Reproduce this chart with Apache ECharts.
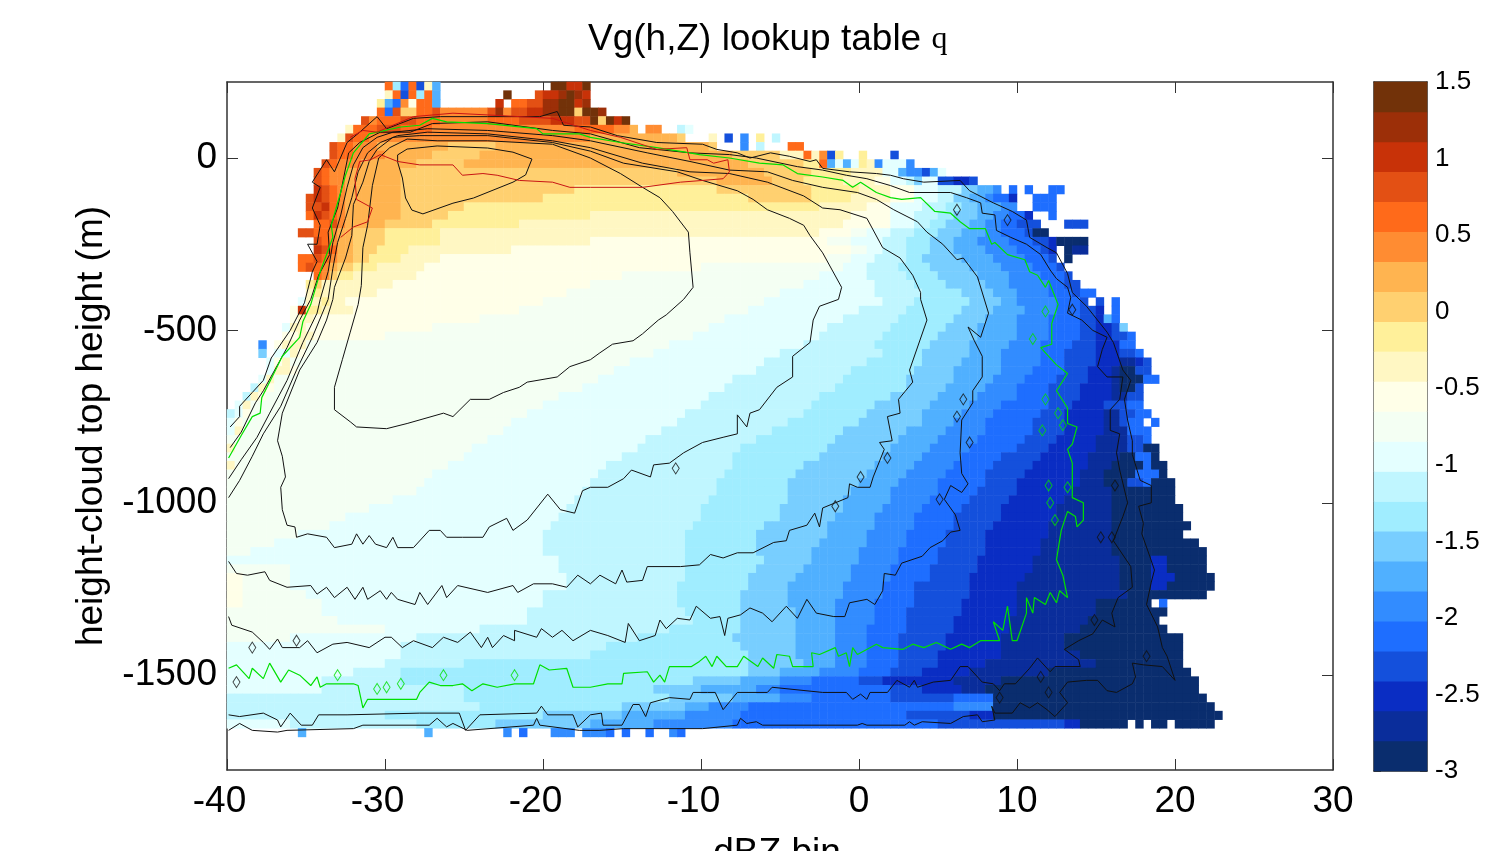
<!DOCTYPE html>
<html>
<head>
<meta charset="utf-8">
<script src="https://cdn.jsdelivr.net/npm/echarts@6/dist/echarts.min.js"></script>
<style>html,body{margin:0;padding:0;background:#fff;overflow:hidden}#c{width:1491px;height:851px}</style>
</head>
<body>
<div id="c"></div>
<script>
const bandColors=['#0a2d6e','#0a2d9b','#0a2dc3','#1450dc','#1e6eff','#328cff','#50b0ff','#78ceff','#a0edff','#c0f6ff','#e4ffff','#f4fff3','#ffffe8','#fff7c3','#fff09a','#ffd070','#ffb450','#ff8c32','#ff6a1a','#e35014','#c83208','#9c2f08','#723209'];
const yTicks=[-1500,-1000,-500,0];
// each row (25 m tall, top down from 220 m): "<start dBZ><level letter>..." , "_" = empty
const rowRuns=[
"-30s-29.5i-29e-28.5s-28d-27.5n-27g-26.5_-19.5w-18.5u-17.5w-17_",
"-30n-29.5s-29d-28.5s-28i-27.5s-27g-26.5_-22.5w-22_-20.5t-20u-19v-18.5w-18v-17.5u-17_",
"-30.5o-30g-29.5e-29r-28.5m-28s-27g-26.5_-23u-22.5_-22s-21t-20v-19w-18u-17.5v-17_",
"-30.5s-30e-29.5t-29p-28s-27t-26.5r-23.5t-23v-22.5r-22t-21u-20v-19w-18p-17.5w-16.5v-16_",
"-31.5t-31r-30.5s-29t-28s-26.5r-23.5s-21.5t-19.5u-18t-17w-16.5p-16w-15.5u-15w-14.5_",
"-32.5n-32s-30.5t-29s-27r-18s-15.5r-14.5q-14_-13.5r-12.5_-11.5j-11k-10.5_",
"-33n-32.5t-32s-31r-17q-11.5p-11_-9.5n-9_-8.5d-8_-7.5f-7_-6.5o-6_-5.5j-5_",
"-33.5t-33s-32r-30.5q-26p-23q-9.5p-9_-7.5f-7_-6.5j-6_-4.5s-3.5_",
"-33.5t-33s-32r-30q-27p-24q-8p-5n-3.5s-3n-2.5r-2d-1.5o-1_0o0.5_2d2.5_",
"-34t-33.5s-33r-31.5q-28p-25q-7p-3.5o-2.5s-2g-1.5k-1g-0.5k0o0.5n1f1.5k3f3.5_",
"-34.5t-34s-33.5r-32.5q-29p-11.5q-6p-3o-0.5n1.5k2.5g3f4d4.5g5k5.5_",
"-34.5t-34s-33.5r-32.5q-29p-9q-5.5p-3.5o-1n1m2k3j3.5h4k5d6c7d7.5_",
"-34.5u-34t-33.5s-33r-32.5q-29p-18o-9p-3o0n2m3.5k5j6.5h7.5g8.5f9_9.5e10_10.5e11_12e13_",
"-35t-34.5u-34t-33.5s-33r-32.5q-29p-20o-7p-3o-0.5n2m3.5k5j6h7g8f8.5e9.5c10_11e12.5_",
"-35t-34u-33.5s-33r-32.5q-29p-25o-2.5n0.5m2k4j5.5i6.5h7.5g9f10_11e12.5_",
"-35s-34.5u-34t-33.5s-33r-32.5q-29p-26o-17n-0.5m2k3.5j5i6h7.5g8.5f9.5e10.5c11_12e12.5_",
"-34.5s-33.5t-33r-32.5q-30p-27o-21.5n-1m2k3.5j4.5i5.5h7g8f9e10d11.5_13d14.5_",
"-35.5t-34.5s-33.5r-33q-32p-30o-26.5n-2.5m-0.5l0.5k2j3.5i5h6.5g8f9e10.5d11a12_",
"-34.5t-34s-33.5r-33q-32p-30o-26.5n-17m-2l-0.5k1.5j3i4.5h6g7.5f9.5e11d12c12.5a14.5_",
"-34.5u-34t-33.5s-33q-32p-30.5o-28.5n-22m-0.5l0.5k1.5j3i4.5h6g8f10e11.5d12c12.5_13a13.5b14.5_",
"-35.5s-34.5t-34s-33.5r-33q-32p-31o-29n-26.5m-2l-0.5k1j3i4h6.5g8.5f10.5e12d12.5_13a13.5_",
"-35.5s-35t-34.5s-34r-33.5q-33p-32o-30.5n-27.5m-10l-1k0.5j2.5i4.5h7g9f11e12.5d13_",
"-34.5s-34r-33.5p-33o-32n-28m-15l-2.5k0.5j3i5h7.5g9.5f11.5e13d13.5_",
"-35o-34.5p-34n-29.5m-17l-3.5k1j3.5i5.5h8g9.5f12e13d14_",
"-35n-34.5o-34n-30.5m-18.5l-5k1j4i6.5h8.5g10f12e13.5d14e15_",
"-35.5k-35n-34o-33.5n-32.5m-20l-6k1.5j3.5i7h9g10f12.5e14d14.5_15d15.5_16e16.5_",
"-36m-35.5u-35o-34n-32m-21.5l-7k0j3i6.5h8.5g10.5f12.5e14d15c15.5_16e16.5_",
"-36m-35.5n-34.5m-24l-8.5k-1j2.5i6h8g10f12e14d15c15.5g16e16.5_",
"-36.5k-36n-35m-27l-9.5k-2j2i5.5h7.5g10f12e14d15c16d16.5h17_",
"-36.5m-35.5n-34.5m-30l-10.5k-2.5j1.5i5h7.5g10f12e14d15c16d17e17.5_",
"-38f-37.5_-37m-36.5n-35l-12k-3.5j1i4.5h7g9.5f11.5e13.5d15c16.5e17.5_",
"-38h-37.5_-37k-36n-35.5m-35l-13k-5j1.5i4h7g9f11.5e13d15c16.5d17.5e18_",
"-37.5k-37m-36.5n-36l-14.5k-6j0.5i4h6.5g9f11.5e13d15c16.5b17.5c18d18.5_",
"-37.5k-37n-36m-35.5l-15.5k-6.5j-0.5i3.5h6g9f11e13d14.5c16b16.5a17.5d18.5_",
"-38k-37.5n-37l-16.5k-8j-1i3h6g8.5f10.5e12.5d14.5c16b16.5a18e19_",
"-38.5j-38n-37.5m-37l-17.5k-8.5j-1.5i3h5.5g8f10e12d14c16b16.5a17.5d18_",
"-39j-38.5n-38m-37.5l-19k-9.5j-2.5i2h5g7.5f10e12d14c16b17d18_",
"-39.5k-39n-38.5l-20k-10j-3i1h4.5g7f9e12d13.5c15.5d17e18_",
"-40j-39.5k-39m-38.5l-21k-11j-3.5i0.5h4g6.5f8.5e11.5d13c15.5b16.5d17.5e18.5_",
"-40k-39.5m-39l-22k-11.5j-4.5i0h4g6f8e11d13c15.5b16.5d17e18_18.5e19_",
"-40k-39.5n-39l-22.5k-12.5j-5.5i-1h3g5.5f8e11d13c15.5b17e18.5_",
"-40l-23.5k-13.5j-6.5i-1.5h2.5g5f7.5e10.5d12.5c15b17d18e18.5_",
"-40n-39.5l-24.5k-14j-7.5i-2h2g4.5f7e10d12c15b17d18a19_",
"-40l-25k-15j-8i-2.5h1.5g4f6.5e9d11.5c14.5b16.5a17.5e18.5a19_",
"-40n-39.5l-26k-16j-8i-3.5h1g3.5f6e8.5d11c14.5b16a18e18.5a19.5_",
"-40l-27k-16.5j-8.5i-4h0.5g3f5.5e8d10.5c14b15.5a17.5e19a19.5_",
"-40l-27.5k-17j-9i-4.5h0g2.5f5e8d10c14b15.5a17d18e18.5a20_",
"-40l-28k-17.5j-9i-4.5h-0.5g2f5e7.5d10c13.5b16a20_",
"-40l-29.5k-18j-9.5i-4.5h-1g2f4.5e7d9.5c13b16a20_",
"-40l-31k-18.5j-10i-5h-1g1.5f4e6.5d9c12.5b16a20.5_",
"-40l-32.5k-19j-10i-5h-1.5g1f3.5e6d9c12.5b16a20.5_",
"-40l-33.5k-19.5j-10.5i-6h-2g1f3.5e6d8.5c12b16a21_",
"-40l-35.5k-20j-11i-6.5h-2g0.5f3e5.5d8c12b16a20.5_",
"-40l-37k-20j-11i-6.5h-2.5g0.5f3e5.5d8c11.5b16a21.5_",
"-40l-38.5k-20j-11i-6.5h-3g0f2.5e5d8c11.5b16a22_",
"-40k-19j-11i-6h-3g0f2.5e5d7.5c11b16.5a18.5c19.5a22_",
"-40l-36k-19j-11i-6.5h-3.5g-0.5f2e4.5d7.5c11b16.5a18.5c19.5a22_",
"-40m-39l-36k-18.5j-11i-7h-4g-0.5f2e4.5d7c10.5b16.5a18.5c20a22.5_",
"-40m-39l-36k-18.5j-11.5i-7h-4.5g-1f1.5e3.5d7c10b16.5a18.5c19.5a22.5_",
"-40m-39l-35k-20j-11.5i-7.5h-4.5g-1f1.5e3.5d7c10b17a22_",
"-40m-39l-34k-20j-11.5i-7.5h-4.5g-1.5f1e3.5d6.5c10b15a18.5_19e19.5_",
"-40l-34k-21j-11i-7.5h-4g-1.5f1e3d6.5c10b15a19.5_",
"-40l-33k-21j-10.5i-7.5h-4g-1.5f1e3d6c9.5b14.5a19_",
"-40l-30k-24j-12i-7.5h-4g-1.5f0.5e3d6c9.5b14a19.5_",
"-40l-36k-28j-14i-8h-4g-1.5f0.5e2.5d5.5c9b13a20.5_",
"-40k-29j-16i-7.5h-4g-1.5f0.5e2.5d5.5c9b13a20.5_",
"-40k-29j-17i-7h-4g-1.5f0.5e2.5d5c9b14a20.5_",
"-40k-30j-25i-7h-3.5g-1.5f0.5e2.5d5c8b15a20.5_",
"-40k-32j-29i-7h-5g-2.5f0e2d4c7b12a21_",
"-40k-34j-29i-10.5h-7.5g-5f-3e0d1.5c6b9a21.5_",
"-40k-34j-25i-13h-10g-6.5f-5e2d4c6.5b8a21.5_",
"-40j-25i-12h-8g-5f-3e2d6e8.5a22_",
"-40j-24i-15h-11g-9.5f-7e6f8.5a22.5_",
"-40j-30i-20h-15g-11f-7.5e3d7c8.5a23_",
"-40k-36j-28i-23h-17g-13f-8e5d13c14a17_17.5a18_18.5a19.5_20a22.5_",
"-35.5g-35_-27.5g-27_-22.5f-22_-21.5e-21_-19.5f-18_-17.5f-16e-15.5_-15e-14.5_-13.5e-13_-12f-11.5e-11_"
];
// contours: flat dBZ,height pairs
const contourA=[-29.2,9,-28.6,26,-26.7,35,-23.5,29,-21.9,17,-20.7,-3,-21.1,-49,-21.9,-70,-24.4,-116,-25.7,-131,-27.6,-162,-28.3,-151,-28.7,-116,-28.9,-58,-29.2,-12,-29.2,9];
const contourB=[-31.7,-425,-32.2,-505,-32.7,-585,-33.2,-665,-33.2,-730,-32.2,-765,-31.8,-780,-29.9,-785,-28.6,-770,-26.3,-740,-25.7,-750,-24.6,-700,-23.4,-700,-22.5,-680,-21.5,-665,-21,-650,-19.1,-635,-18.3,-605,-17,-585,-16.4,-565,-15.6,-540,-14.3,-530,-13.7,-510,-12.7,-470,-12.2,-455,-11.1,-410,-10.5,-375,-10.7,-275,-10.8,-215,-11.8,-155,-12.6,-115,-13.7,-85,-15.1,-45,-17,0,-19.4,40,-23.5,50,-26.7,50,-28.6,55,-29.7,30,-30.4,0,-30.8,-80,-31.1,-195,-31.4,-260,-31.5,-370,-31.7,-425];
const contourC=[-36.8,-820,-36.5,-865,-36.3,-925,-36.6,-955,-36.5,-1020,-36.2,-1065,-35.7,-1070,-35.6,-1100,-34.9,-1090,-33.7,-1100,-33.2,-1130,-32.1,-1120,-31.8,-1090,-31.4,-1120,-31,-1095,-30.6,-1120,-29.9,-1130,-29.5,-1100,-29.2,-1130,-28.2,-1130,-27.2,-1080,-26.5,-1080,-26.1,-1100,-25.1,-1100,-23.8,-1100,-23.4,-1070,-22.3,-1045,-21.9,-1080,-21,-1050,-19.7,-975,-18.9,-1020,-18,-1030,-17.5,-965,-17,-955,-15.9,-955,-14.9,-930,-14.4,-905,-13.2,-925,-13,-890,-12,-885,-11.1,-855,-9.9,-825,-8.6,-810,-7.7,-800,-7.7,-745,-7.1,-780,-6.9,-740,-6.3,-730,-5.2,-665,-4.2,-635,-4.2,-575,-3.1,-535,-2.9,-470,-2.5,-430,-1.3,-410,-1.1,-375,-2.3,-275,-3.1,-225,-3.5,-195,-4.4,-175,-5.8,-150,-6.7,-120,-7.7,-95,-9.9,-65,-11.5,-40,-14.9,-15,-17,20,-19.4,45,-23.5,65,-27.8,65,-29.5,60,-30.5,25,-31,-10,-31.4,-70,-32,-135,-32.1,-225,-32.5,-290,-33.2,-375,-33.3,-410,-33.7,-470,-34.3,-535,-35.4,-615,-36.5,-740,-36.8,-820];
const contourD=[-39.9,-1170,-39.4,-1205,-38.7,-1210,-37.6,-1200,-37.3,-1225,-36.2,-1245,-34.7,-1240,-34.3,-1265,-33.7,-1245,-33.2,-1275,-32.4,-1245,-31.9,-1280,-31.4,-1245,-31.1,-1280,-30.3,-1255,-29.9,-1280,-29.6,-1260,-29.2,-1280,-28.1,-1295,-27.8,-1260,-27.3,-1295,-26.4,-1240,-26.1,-1275,-25.4,-1240,-23.5,-1260,-21.9,-1240,-21.6,-1260,-20.6,-1235,-19.4,-1235,-18.5,-1245,-17.8,-1210,-17,-1235,-16.4,-1210,-15.4,-1235,-15,-1195,-14.7,-1230,-13.7,-1225,-13.4,-1185,-11.3,-1185,-10.1,-1180,-9.4,-1150,-8.6,-1160,-7.7,-1145,-6.7,-1145,-5.4,-1115,-4.6,-1110,-4.4,-1080,-3.3,-1065,-2.8,-1030,-2.5,-1070,-2.3,-1015,-0.7,-985,-0.6,-945,-0.1,-955,0.7,-955,0.9,-925,1.6,-845,1.3,-825,2.1,-820,1.8,-750,2.6,-740,2.5,-700,3.4,-650,3.2,-615,4.3,-470,3.9,-410,3.9,-390,3.4,-340,2.6,-290,1.5,-260,0.5,-175,-1.2,-150,-2.3,-145,-3.5,-110,-5.8,-70,-8.2,-45,-10.7,-40,-13.7,-15,-17,30,-19.4,50,-23.5,70,-27.3,75,-29.2,65,-30.3,45,-31.1,15,-31.7,-40,-32.1,-115,-32.5,-175,-33,-245,-33.3,-320,-33.6,-410,-34.6,-520,-35.6,-615,-36.6,-720,-37.7,-800,-38.4,-865,-39.2,-935,-39.9,-985];
const contourE=[-39.9,-1330,-39.7,-1355,-38.4,-1375,-37.7,-1405,-37.3,-1425,-36.8,-1395,-36.5,-1420,-35.4,-1420,-34.9,-1400,-34.3,-1435,-33.3,-1410,-32.4,-1405,-31,-1420,-30,-1390,-29.6,-1390,-28.9,-1420,-28.2,-1400,-27,-1420,-26.3,-1390,-25.4,-1405,-24.6,-1375,-23.9,-1420,-23.5,-1390,-23.2,-1420,-22.5,-1385,-21.8,-1400,-21.8,-1370,-20.4,-1390,-20.1,-1365,-19.4,-1390,-18.8,-1370,-18.1,-1400,-17,-1370,-15.9,-1385,-14.8,-1405,-14.6,-1350,-13.9,-1400,-12.9,-1385,-12.6,-1340,-12.2,-1365,-11.5,-1335,-10.7,-1340,-10.3,-1300,-9.4,-1335,-8.8,-1330,-8.5,-1385,-8.3,-1335,-7.5,-1325,-6.9,-1305,-6.1,-1320,-5.5,-1345,-4.6,-1300,-3.9,-1335,-3.3,-1280,-2.7,-1320,-1.6,-1330,-0.9,-1330,-0.6,-1290,0.5,-1280,1,-1295,1.5,-1255,1.6,-1205,2.3,-1210,2.7,-1175,4,-1155,4.5,-1130,5.3,-1110,5.8,-1085,6.4,-1080,6.1,-1035,5.4,-990,5.8,-950,6.5,-970,6.9,-945,6.5,-915,6.4,-855,6.5,-760,7.2,-710,7.2,-675,7.8,-635,7.8,-575,7.3,-530,6.9,-490,7.7,-520,8.2,-450,7.5,-345,6.6,-290,6.2,-295,5.3,-250,4.3,-215,3.7,-185,2.2,-150,1.1,-120,-0.1,-100,-2.3,-85,-4.2,-65,-5.8,-40,-8.2,-35,-10.7,-10,-13.4,15,-17,50,-19.4,65,-23.5,80,-27.3,85,-29.5,75,-30.5,60,-31.4,30,-32,-20,-32.4,-85,-32.8,-165,-33.3,-245,-33.6,-330,-34.1,-410,-34.3,-450,-35.2,-535,-36.2,-645,-37.3,-740,-38.1,-810,-39.1,-875,-39.9,-930];
const contourF=[-39.8,-840,-39.1,-795,-38.2,-710,-37.7,-675,-36.2,-550,-35.4,-470,-34.7,-410,-34.2,-340,-33.5,-280,-33.6,-215,-33,-145,-32.3,15,-31.6,45,-30.3,75,-28.4,75,-27,100,-23.5,105,-19.4,80,-17,70,-13.9,30,-10.7,15,-8.2,10,-6.5,0,-3.9,-25,-2.3,-35,-0.8,-50,0.5,-60,2,-80,3.2,-100,5.8,-100,6.8,-115,7.7,-130,7.8,-160,8.6,-165,8.7,-210,9.6,-230,10.6,-250,11.5,-280,12.1,-325,12.5,-350,13.2,-375,13.4,-405,13.2,-450,14.1,-470,14.8,-500,15.7,-520,15.4,-555,15.1,-605,15.7,-635,16.7,-635,16.5,-700,15.9,-730,15.9,-790,16.5,-800,16.3,-855,16.5,-905,17,-1000,16.7,-1040,16.1,-1110,17.2,-1185,17.3,-1245,16.4,-1275,16,-1320,16.2,-1360,15.4,-1340,14.8,-1380,13.9,-1400,13,-1425,13.9,-1455,14,-1475,12.4,-1475,12.1,-1490,11.3,-1450,10.8,-1480,10.3,-1505,9.9,-1525,9.2,-1525,8.9,-1545,8.5,-1525,7.8,-1520,7.5,-1505,6.9,-1475,6.4,-1475,5.8,-1515,4.7,-1520,3.7,-1535,3.5,-1515,3.2,-1535,2.4,-1515,1.8,-1550,0.7,-1550,0.5,-1570,0.1,-1555,-0.4,-1570,-0.8,-1550,-2.3,-1550,-5.5,-1535,-5.8,-1550,-7.7,-1550,-8.6,-1600,-9.1,-1550,-9.6,-1550,-10.5,-1550,-10.7,-1570,-12,-1565,-13.2,-1580,-13.5,-1620,-13.9,-1585,-14.3,-1585,-15,-1645,-16.2,-1645,-16.3,-1610,-17,-1615,-17.8,-1650,-18.1,-1615,-19.7,-1615,-20.1,-1590,-20.4,-1610,-24,-1615,-24.9,-1660,-25.3,-1610,-27.8,-1610,-32.4,-1615,-34.2,-1615,-34.6,-1645,-35.3,-1645,-36,-1610,-36.6,-1650,-36.8,-1630,-37.7,-1610,-39.2,-1620,-39.9,-1615];
const contourG=[-39.8,-780,-39.2,-750,-39.2,-720,-38.4,-680,-37.7,-645,-37.2,-580,-36,-500,-35.1,-420,-34.6,-330,-34.3,-300,-34.9,-250,-34.3,-250,-34.1,-195,-34.6,-145,-34.1,-85,-34.6,-70,-33.7,-5,-33.2,-40,-32.4,45,-31.6,75,-30.5,120,-29.9,85,-28.2,115,-26.5,120,-23.5,120,-20.2,120,-19.1,135,-18.7,95,-17,90,-15.3,65,-12.8,45,-9.9,40,-9,25,-7.7,15,-6.9,0,-5.6,15,-4.4,5,-3.1,-10,-2.7,-5,-2.3,-30,-0.6,-40,1.1,-45,2,-50,2.8,-60,4.1,-70,6.4,-65,7,-95,8.5,-130,9.7,-155,10.6,-180,10.8,-230,11.9,-260,12.5,-275,13.2,-335,13.5,-390,14.4,-430,15.7,-505,16.1,-535,16.7,-615,17.2,-645,16.8,-700,17,-760,17.3,-820,17.3,-860,17.8,-935,18.5,-950,18.5,-1000,17.7,-1010,18,-1060,17.9,-1090,18.4,-1155,18.7,-1195,18.5,-1230,18.2,-1295,18.9,-1360,19.2,-1420,19.5,-1445,20,-1515,19.2,-1475,18,-1470,17.3,-1465,17.5,-1505,17.3,-1525,16.3,-1550,15.7,-1545,15.1,-1515,14.4,-1515,13.2,-1520,12.7,-1550,13.2,-1580,12.4,-1620,11.9,-1600,11.3,-1580,10.8,-1595,10.2,-1580,9.7,-1610,8.6,-1610,8.4,-1590,8.6,-1630,7.8,-1635,7.5,-1615,6.6,-1620,5.8,-1640,4,-1635,3.5,-1645,3.2,-1635,2.9,-1645,0.5,-1645,0.2,-1640,-0.1,-1645,-6.1,-1645,-6.5,-1635,-7.1,-1640,-7.5,-1625,-7.7,-1645,-9.9,-1655,-14.9,-1655,-16.4,-1660,-17.7,-1660,-20.2,-1645,-20.4,-1625,-20.6,-1645,-24.8,-1660,-25.7,-1640,-26.1,-1650,-26.7,-1625,-27.2,-1645,-31.4,-1645,-32,-1655,-36.2,-1660,-36.8,-1665,-38.4,-1660,-39.2,-1640,-39.9,-1660];
const contourGreen=[-39.9,-1480,-39.4,-1470,-38.6,-1510,-38.4,-1480,-37.7,-1510,-37.3,-1465,-36.6,-1520,-36.1,-1485,-35.4,-1500,-34.7,-1530,-34.3,-1505,-34.1,-1535,-33.7,-1525,-32,-1525,-31.7,-1530,-31.4,-1595,-31.1,-1570,-28,-1570,-27.8,-1550,-27.2,-1520,-26.5,-1530,-25.7,-1530,-25.1,-1525,-24.5,-1545,-23.8,-1525,-22.9,-1535,-21.8,-1525,-20.6,-1525,-20.2,-1470,-19.6,-1485,-18.5,-1480,-18.1,-1535,-17,-1535,-15.9,-1525,-15,-1525,-14.9,-1495,-13.4,-1490,-13,-1520,-12.6,-1500,-12.3,-1520,-12,-1475,-11.3,-1475,-10.6,-1475,-10.1,-1460,-9.7,-1445,-9.3,-1475,-9,-1445,-8.4,-1475,-7.7,-1475,-7.3,-1445,-6.4,-1475,-6.1,-1450,-5.4,-1480,-5.2,-1440,-4.4,-1445,-4.2,-1475,-2.9,-1475,-3,-1435,-2.5,-1440,-1.5,-1420,-1.3,-1445,-0.8,-1435,-0.6,-1475,-0.4,-1420,-0.1,-1440,1.1,-1410,1.5,-1420,2.8,-1425,3.4,-1410,4.1,-1420,4.9,-1405,5.8,-1425,6.5,-1410,7,-1420,7.7,-1400,8.9,-1400,8.5,-1345,9.1,-1370,9.4,-1300,9.7,-1400,10,-1400,10.6,-1320,10.6,-1275,11,-1320,11.1,-1275,11.8,-1295,12.1,-1260,12.5,-1290,12.7,-1255,13.2,-1275,12.9,-1210,12.5,-1165,12.8,-1080,13.2,-1025,13.7,-1040,13.8,-1070,14.2,-1050,14.2,-1000,13.5,-985,13.5,-885,13.2,-845,13.5,-830,13.8,-780,13.2,-770,13.2,-725,12.5,-675,13.2,-625,12.5,-600,11.5,-550,12.2,-540,12.2,-480,12.6,-425,12,-355,11.8,-375,11.3,-340,10.8,-330,10.5,-295,9.4,-280,8.6,-245,8.4,-250,8,-205,7,-205,6.4,-185,5.8,-160,4.8,-155,3.9,-115,2.7,-120,2,-115,1.1,-100,0.1,-70,-0.4,-85,-1,-65,-2.3,-55,-3.9,-45,-4.8,-20,-6.3,-15,-8.2,0,-10.1,10,-10.7,15,-12.8,30,-15.1,45,-17,60,-17.7,70,-20,70,-20.4,85,-23.5,100,-26.1,105,-27,115,-27.8,95,-29,90,-31,70,-32,15,-32.5,-50,-33.4,-195,-33.3,-230,-34.1,-330,-34.7,-425,-35.2,-475,-35.4,-520,-36.5,-575,-37.2,-640,-37.8,-695,-37.9,-740,-38.4,-750,-39.1,-805,-39.9,-870];
const contourRed=[-32.8,-230,-32,-200,-31.1,-185,-30.8,-145,-31.8,-120,-31.9,-60,-31.6,-10,-30.9,-5,-30.3,10,-29.2,-10,-27.8,-20,-25.7,-20,-25.1,-50,-23.8,-45,-22.9,-50,-21.5,-65,-19.4,-70,-18.3,-85,-17,-85,-13.7,-85,-11.3,-70,-9.9,-65,-8.6,-60,-8.2,-40,-8.3,-5,-9.2,-15,-9.6,-5,-10.7,-5,-10.9,30,-12.8,25,-15.1,60,-17,80,-19.4,115,-23.5,125,-25.7,130,-28.2,120,-29.5,95,-30.5,75,-31.4,80,-32.2,60];
const islandsBlack=[0.1,-925,1.8,-870,-11.6,-900,-1.5,-1010,5.1,-990,-38.4,-1420,-35.6,-1400,-39.4,-1520,18.2,-1445,16,-1100,15.3,-1100,16.2,-950,14.9,-1340,8.9,-1565,12,-1550,11.5,-1505,9.4,-180,6.6,-700,6.2,-750,7,-825,6.2,-150,13.5,-440];
const islandsGreen=[12.4,-1050,13.2,-955,12,-950,12.1,-1000,11.8,-445,11,-525,11.8,-700,12.6,-740,12.9,-775,11.6,-790,-26.3,-1500,-21.8,-1500,-29,-1525,-29.9,-1535,-30.5,-1540,-33,-1500];

const pairs=a=>{const o=[];for(let i=0;i<a.length;i+=2)o.push([a[i],a[i+1]]);return o;};
const cBottom=-3,cTop=1.5,cStep=(cTop-cBottom)/bandColors.length;
const levelValue=k=>cBottom+(k+0.5)*cStep;

const xCats=[];for(let i=0;i<140;i++)xCats.push(String(-40+i*0.5+0.25));
const yCats=[];for(let i=0;i<80;i++)yCats.push(String(220-i*25-12.5));
const cells=[];
rowRuns.forEach((row,iy)=>{
  const toks=[...row.matchAll(/(-?\d+(?:\.\d+)?)([a-w_])/g)].map(m=>[parseFloat(m[1]),m[2]]);
  for(let t=0;t<toks.length-1;t++){
    if(toks[t][1]==='_')continue;
    const k=toks[t][1].charCodeAt(0)-97;
    const a=Math.round((toks[t][0]+40)*2),b=Math.round((toks[t+1][0]+40)*2);
    for(let ix=a;ix<b;ix++)cells.push([ix,iy,levelValue(k)]);
  }
});
const barCats=bandColors.map((c,i)=>String(i));
const barCells=bandColors.map((c,i)=>[0,i,levelValue(i)]);
const pieces=bandColors.map((c,i)=>({gte:cBottom+i*cStep,lt:cBottom+(i+1)*cStep,color:c}));

const axisCol='#333';
const hiddenCat=(gridIndex,data,extra)=>Object.assign({type:'category',gridIndex,data,show:false},extra||{});
const baseValue={type:'value',axisLine:{show:true,onZero:false,lineStyle:{color:axisCol,width:1.5}},splitLine:{show:false},scale:false};
const line=(a,color,width)=>({type:'line',xAxisIndex:1,yAxisIndex:1,data:pairs(a),showSymbol:false,symbol:'none',silent:true,animation:false,z:5,lineStyle:{color,width:width||1}});
const dots=(a,color)=>({type:'scatter',xAxisIndex:1,yAxisIndex:1,data:pairs(a),symbol:'diamond',symbolSize:[7,11],silent:true,animation:false,z:5,itemStyle:{color:'rgba(0,0,0,0)',borderColor:color,borderWidth:1}});

const chart=echarts.init(document.getElementById('c'),null,{renderer:'canvas'});
chart.setOption({
  animation:false,
  backgroundColor:'#fff',
  title:{text:'{a|Vg(h,Z) lookup table }{b|q}',left:583,top:16,textStyle:{rich:{a:{fontFamily:'Liberation Sans',fontSize:37,fontWeight:'normal',color:'#000'},b:{fontFamily:'Liberation Serif',fontSize:32,fontWeight:'normal',color:'#000'}}}},
  grid:[
    {left:227,top:82,width:1106,height:689.4,outerBoundsMode:'none'},
    {left:227,top:82,width:1106,height:688,outerBoundsMode:'none'},
    {left:1374,top:82,width:53,height:689,outerBoundsMode:'none'},
    {left:1374,top:82,width:53,height:689,outerBoundsMode:'none'}
  ],
  visualMap:{type:'piecewise',show:false,seriesIndex:[0,1],pieces},
  xAxis:[
    hiddenCat(0,xCats),
    Object.assign({},baseValue,{gridIndex:1,position:'bottom',min:-40,max:30,interval:10,
      axisTick:{inside:true,length:11,lineStyle:{color:axisCol}},
      axisLabel:{fontFamily:'Liberation Sans',fontSize:37,color:'#000',margin:13,
        formatter:v=>v<0?'{n|'+v+'}{s| }':String(v),
        rich:{n:{fontFamily:'Liberation Sans',fontSize:37,color:'#000'},s:{fontFamily:'Liberation Sans',fontSize:37,width:15}}},
      name:'dBZ bin',nameLocation:'middle',nameGap:65,nameTextStyle:{fontFamily:'Liberation Sans',fontSize:37,color:'#000',padding:[0,6,0,0]}}),
    Object.assign({},baseValue,{gridIndex:1,position:'top',min:-40,max:30,interval:10,axisTick:{inside:true,length:11,lineStyle:{color:axisCol}},axisLabel:{show:false}}),
    hiddenCat(2,['bar']),
    Object.assign({},baseValue,{gridIndex:3,position:'bottom',min:0,max:1,axisTick:{show:false},axisLabel:{show:false}}),
    Object.assign({},baseValue,{gridIndex:3,position:'top',min:0,max:1,axisTick:{show:false},axisLabel:{show:false}})
  ],
  yAxis:[
    hiddenCat(0,yCats,{inverse:true}),
    Object.assign({},baseValue,{gridIndex:1,position:'left',min:-1775,max:220.5,
      axisTick:{inside:true,length:11,customValues:yTicks,lineStyle:{color:axisCol}},
      axisLabel:{customValues:yTicks,fontFamily:'Liberation Sans',fontSize:37,color:'#000',margin:10,formatter:v=>String(v)},
      name:'height-cloud top height (m)',nameLocation:'middle',nameGap:111,nameTextStyle:{fontFamily:'Liberation Sans',fontSize:37,color:'#000',padding:[0,0,6,0]}}),
    Object.assign({},baseValue,{gridIndex:1,position:'right',min:-1775,max:220.5,
      axisTick:{inside:true,length:11,customValues:yTicks,lineStyle:{color:axisCol}},axisLabel:{show:false}}),
    hiddenCat(2,barCats),
    Object.assign({},baseValue,{gridIndex:3,position:'right',min:-3,max:1.5,interval:0.5,
      axisTick:{inside:true,length:7,lineStyle:{color:axisCol}},
      axisLabel:{fontFamily:'Liberation Sans',fontSize:26,color:'#000',margin:8,showMinLabel:true,showMaxLabel:true,formatter:v=>String(v)}}),
    Object.assign({},baseValue,{gridIndex:3,position:'left',min:-3,max:1.5,interval:0.5,axisTick:{inside:true,length:7,lineStyle:{color:axisCol}},axisLabel:{show:false}})
  ],
  series:[
    {type:'heatmap',xAxisIndex:0,yAxisIndex:0,data:cells,progressive:0,silent:true,animation:false,z:1},
    {type:'heatmap',xAxisIndex:3,yAxisIndex:3,data:barCells,progressive:0,silent:true,animation:false,z:1},
    {type:'scatter',xAxisIndex:4,yAxisIndex:4,data:[],silent:true},
    line(contourA,'#111'),line(contourB,'#111'),line(contourC,'#111'),line(contourD,'#111'),
    line(contourE,'#111'),line(contourF,'#111'),line(contourG,'#111'),
    line(contourGreen,'#00e000',1.2),line(contourRed,'#c81414',1),
    dots(islandsBlack,'#111'),dots(islandsGreen,'#00e000')
  ]
});
</script>
</body>
</html>
